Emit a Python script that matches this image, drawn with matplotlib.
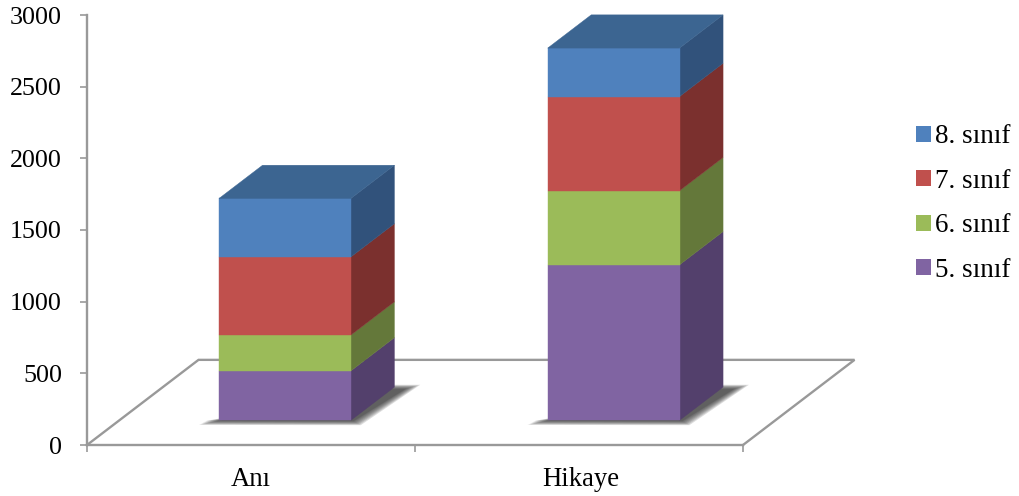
import matplotlib
matplotlib.use("Agg")
import matplotlib.pyplot as plt
from matplotlib.patches import Polygon, Patch

plt.rcParams["font.family"] = ["Liberation Serif", "DejaVu Serif"]

categories = ["Anı", "Hikaye"]
series_names = ["5. sınıf", "6. sınıf", "7. sınıf", "8. sınıf"]
values_5 = [345, 1085]
values_6 = [250, 517]
values_7 = [545, 657]
values_8 = [408, 338]
y_ticks = [0, 500, 1000, 1500, 2000, 2500, 3000]

front_colors = ["#8064A2", "#9BBB59", "#C0504D", "#4F81BD"]
side_colors = ["#53406C", "#64783A", "#7B302E", "#31527B"]
top_color = "#3C6591"
axis_color = "#999999"

# oblique projection: how far the back of the floor is shifted
depth_x = 0.34
depth_y = 594
bar_width = 0.402
d_front = 0.29
d_back = 0.68


def proj(x, y, d):
    return x + d * depth_x, y + d * depth_y


fig = plt.figure(figsize=(10.2, 4.96), dpi=100)
ax = fig.add_axes([87 / 1020, (496 - 445) / 496, 656 / 1020, 430 / 496])
ax.set_xlim(0, 2)
ax.set_ylim(0, 3000)

for name in ["top", "right"]:
    ax.spines[name].set_visible(False)
for name in ["left", "bottom"]:
    ax.spines[name].set_color(axis_color)
    ax.spines[name].set_linewidth(1.7)

ax.set_yticks(y_ticks)
ax.tick_params(axis="y", length=5, width=1.2, color=axis_color, labelsize=18.7, pad=13)
ax.set_xticks([0, 1, 2])
ax.set_xticklabels([])
ax.tick_params(axis="x", which="major", length=5, width=1.2, color=axis_color)
ax.set_xticks([0.5, 1.505], minor=True)
ax.set_xticklabels(categories, minor=True)
ax.tick_params(axis="x", which="minor", length=0, labelsize=19.2, pad=16)

# floor
floor = [proj(0, 0, 0), proj(0, 0, 1), proj(2, 0, 1), proj(2, 0, 0)]
ax.plot([p[0] for p in floor], [p[1] for p in floor], color=axis_color, lw=1.7,
        clip_on=False, zorder=1, solid_joinstyle="miter")

all_series = [values_5, values_6, values_7, values_8]
for i in range(len(categories)):
    left = i + 0.5 - bar_width / 2 + 0.005 + 0.002 * i
    right = left + bar_width

    # soft shadow on the floor, built from a few see-through layers
    for grow in [1.0, 0.85, 0.7, 0.55, 0.4, 0.25, 0.1, 0.0]:
        g = 0.022 * grow
        h = 28 * grow
        shadow = [
            proj(left - 0.04 - g, -4 - h, d_front),
            proj(right + 0.008 + g, -6 - h, d_front),
            proj(right + 0.045 + 2 * g, 6 + h, d_back - 0.03),
            proj(right - 0.01, 6 + h, d_back - 0.03),
        ]
        ax.add_patch(Polygon(shadow, closed=True, fc="#303030", ec="none", alpha=0.16,
                             clip_on=False, zorder=2))

    bottom = 0
    for j, vals in enumerate(all_series):
        top = bottom + vals[i]
        side = [proj(right, bottom, d_front), proj(right, bottom, d_back),
                proj(right, top, d_back), proj(right, top, d_front)]
        front = [proj(left, bottom, d_front), proj(right, bottom, d_front),
                 proj(right, top, d_front), proj(left, top, d_front)]
        ax.add_patch(Polygon(side, closed=True, fc=side_colors[j], ec=side_colors[j], lw=0.3,
                             clip_on=False, zorder=3))
        ax.add_patch(Polygon(front, closed=True, fc=front_colors[j], ec=front_colors[j], lw=0.3,
                             clip_on=False, zorder=4))
        bottom = top
    roof = [proj(left, bottom, d_front), proj(right, bottom, d_front),
            proj(right, bottom, d_back), proj(left, bottom, d_back)]
    ax.add_patch(Polygon(roof, closed=True, fc=top_color, ec=top_color, lw=0.3,
                         clip_on=False, zorder=4))

handles = [Patch(fc=front_colors[k], ec="none") for k in range(3, -1, -1)]
labels = [series_names[k] for k in range(3, -1, -1)]
fig.legend(handles, labels, loc="center left", bbox_to_anchor=(916 / 1020, (496 - 203.5) / 496),
           frameon=False, fontsize=19.5, handlelength=0.54, handleheight=0.54,
           handletextpad=0.16, labelspacing=0.72, borderpad=0, borderaxespad=0)

fig.savefig("out.png", dpi=100)
